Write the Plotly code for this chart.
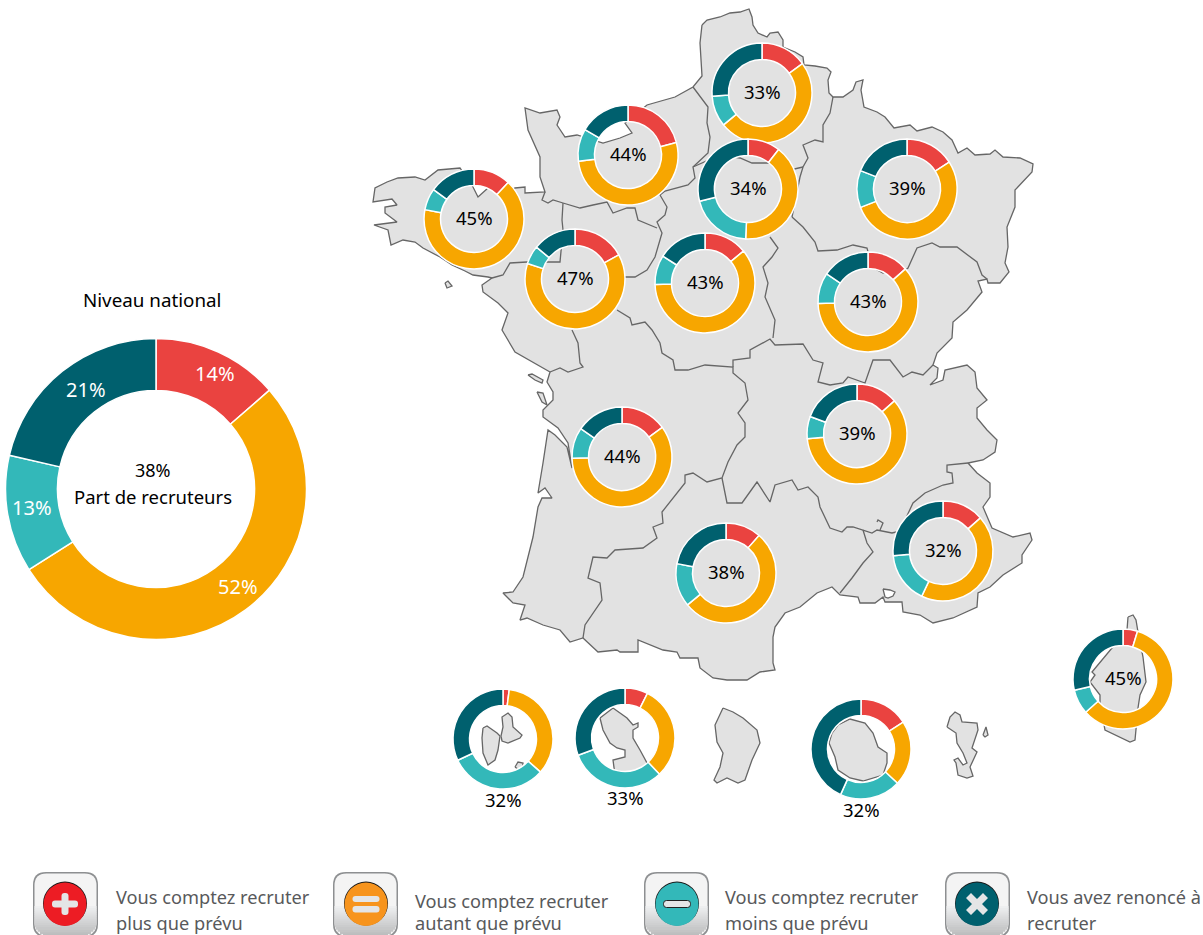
import plotly.graph_objects as go

W, H = 1203, 935
RED, ORANGE, TEAL, DARK = "#EA4340", "#F7A600", "#33B8B9", "#00606E"
LAND, EDGE = "#E2E2E2", "#666666"
FONT = "Noto Sans"

# ---------- data (shares in %, clockwise from the top) ----------
categories = ["Vous comptez recruter plus que prévu", "Vous comptez recruter autant que prévu",
              "Vous comptez recruter moins que prévu", "Vous avez renoncé à recruter"]
national_values = [13.6, 52.4, 12.6, 21.4]
national_recruiters = "38%"

regions = ["Hauts-de-France", "Normandie", "Bretagne", "Pays de la Loire", "Ile-de-France",
           "Centre-Val de Loire", "Grand Est", "Bourgogne-Franche-Comté", "Nouvelle-Aquitaine",
           "Occitanie", "Auvergne-Rhône-Alpes", "PACA", "Corse", "Guadeloupe", "Martinique", "La Réunion"]
recruiters = ["33%", "44%", "45%", "47%", "34%", "43%", "39%", "43%", "44%", "38%", "39%", "32%",
              "45%", "32%", "33%", "32%"]
plus_share =   [15, 21, 12, 17, 10.5, 14, 16, 13.5, 15, 11.5, 13.5, 13.5, 4.7, 2, 7.4, 16]
same_share =   [49, 52, 66, 63, 40.3, 60.7, 53, 61, 60, 52.5, 60, 43.5, 58.7, 34.5, 30.5, 21]
less_share =   [10, 10.5, 7, 6, 20.3, 9.5, 12, 10, 10, 14, 7.2, 16.5, 8, 31.5, 31.5, 19.7]
gave_up_share = [26, 16.5, 15, 14, 29, 16, 19, 15.5, 15.5, 22, 19.3, 26.5, 28.6, 32, 30.6, 43.3]

# ---------- layout helpers (pixel placement of the donuts) ----------
centers = [(762, 93), (628, 155), (474, 219), (575, 279), (748, 189), (705, 283), (907, 189), (868, 302),
           (622, 457), (726, 573), (857, 434), (943, 551), (1123, 679), (503, 739), (625, 738), (861, 749)]
label_below = {"Guadeloupe": (503, 801), "Martinique": (625, 799), "La Réunion": (861, 811)}

# ---------- map outlines (background decoration, image pixels) ----------
mainland = [(702,25),(707,20),(720,17),(730,13),(740,12),(749,9),(752,17),(753,25),(758,33),(767,37),(770,33),(778,32),
 (783,40),(783,47),(795,52),(803,57),(804,65),(815,66),(827,68),(831,72),(828,80),(829,93),(833,97),(843,97),(853,90),
 (856,82),(863,80),(861,90),(864,107),(877,112),(885,117),(894,128),(910,125),(917,131),(932,127),(943,132),(952,140),
 (958,153),(967,148),(975,155),(990,154),(995,150),(1003,157),(1020,158),(1033,164),(1032,172),(1015,190),(1015,207),
 (1007,227),(1008,247),(1005,263),(1009,272),(1000,283),(988,283),(987,279),(978,281),(982,292),(967,310),(953,322),
 (952,338),(937,353),(933,365),(938,368),(937,378),(930,385),(943,380),(945,370),(967,365),(975,372),(977,388),(987,400),
 (977,408),(977,418),(987,430),(997,440),(995,452),(983,460),(968,463),(977,473),(990,483),(990,497),(983,507),(992,528),
 (1013,537),(1030,533),(1032,540),(1022,555),(1022,563),(1003,575),(990,587),(978,593),(977,607),(953,618),(933,623),
 (920,615),(903,612),(902,602),(885,602),(883,597),(875,603),(860,603),(858,597),(840,595),(832,587),(817,593),(800,607),
 (785,613),(775,627),(773,637),(773,663),(775,670),(760,672),(747,680),(727,680),(713,678),(700,668),(698,658),(680,658),
 (677,652),(663,650),(638,640),(638,652),(620,652),(617,650),(598,652),(583,638),(570,642),(560,630),(543,625),(527,618),
 (520,620),(525,605),(513,603),(503,593),(513,592),(523,577),(533,537),(538,507),(542,498),(552,498),(545,488),(538,493),
 (543,463),(548,430),(555,435),(567,447),(572,468),(568,443),(558,428),(543,417),(543,410),(553,400),(553,392),(547,382),
 (550,372),(532,362),(515,352),(502,330),(508,313),(498,303),(483,292),(482,285),(492,278),(488,277),(473,275),(465,271),
 (452,265),(440,257),(423,248),(415,242),(403,240),(391,245),(388,230),(374,225),(397,222),(385,213),(385,207),(397,205),
 (392,199),(373,202),(375,188),(387,182),(398,178),(415,177),(425,180),(438,170),(460,168),(473,187),(478,197),(488,188),
 (507,193),(515,188),(525,187),(525,193),(545,192),(540,177),(540,157),(528,130),(525,108),(540,113),(557,110),(560,117),
 (557,125),(565,137),(577,135),(603,143),(620,138),(632,133),(625,123),(647,105),(675,97),(693,87),(702,76),(700,43)]

borders = [
 [(693,87),(708,107),(707,123),(710,137),(708,153),(693,167),(695,178),(688,185),(665,191),(660,195),(667,207),(665,215),(657,222),
  (662,233),(655,257),(647,270),(635,277),(625,277)],
 [(545,192),(542,200),(548,203),(553,200),(563,203),(580,208),(593,205),(607,202),(613,213),(627,208),(635,208),(638,220),(657,228)],
 [(563,203),(562,220),(563,230),(560,262),(527,262),(510,263),(503,275),(492,278)],
 [(617,310),(630,318),(632,325),(645,322),(652,330),(660,343),(662,353),(673,360),(675,370),(688,370),(705,365),(733,367),
  (733,373),(745,383),(748,400),(738,413),(745,423),(745,437),(737,445),(728,462),(722,478),(707,482),(693,473),(685,475),
  (685,483),(670,502),(662,512),(663,523),(653,527),(657,538),(643,548),(615,550),(607,558),(593,557),(588,578),(600,583),
  (602,600),(585,625),(583,638)],
 [(572,330),(578,343),(580,363),(583,367),(568,372),(560,368),(550,372)],
 [(722,478),(727,503),(742,503),(757,482),(770,502),(775,485),(792,480),(798,490),(808,487),(818,497),(820,507),(830,528),
  (842,532),(847,527),(853,527),(863,530),(872,533),(877,530),(892,533),(905,530)],
 [(905,520),(913,503),(925,493),(943,485),(953,483),(952,473),(947,472),(947,465),(968,463)],
 [(863,530),(867,543),(873,552),(863,563),(852,578),(840,593)],
 [(733,367),(733,360),(750,358),(750,350),(770,339),(775,345),(803,344),(813,360),(823,363),(818,382),(830,385),(843,383),
  (848,377),(865,383),(873,360),(883,360),(890,360),(903,377),(912,372),(923,375),(933,365)],
 [(770,237),(778,248),(772,257),(763,267),(768,283),(765,297),(775,320),(773,338)],
 [(792,217),(803,227),(815,242),(818,251),(837,250),(853,245),(867,248),(872,267),(883,273),(905,270),(908,268),(917,248),
  (932,243),(940,247),(957,247),(977,262),(982,275),(987,279)],
 [(833,97),(830,113),(823,125),(823,142),(815,140),(803,145),(808,158),(803,167),(800,177),(792,217)],
 [(693,167),(720,155),(740,158),(752,163),(770,163),(790,170),(803,167)],
 [(877,522),(878,520),(883,523),(880,530)],
]

islands_gray = [
 [(445,283),(448,281),(452,286),(447,288)],                        # Belle-Ile
 [(528,375),(532,374),(543,380),(542,383),(535,380)],              # Ré
 [(537,392),(543,393),(547,405),(542,402)],                        # Oléron
 [(1128,617),(1133,615),(1136,620),(1138,632),(1143,657),(1146,682),(1140,695),(1138,708),(1135,740),(1130,742),(1105,730),
  (1100,703),(1100,695),(1090,682),(1095,675),(1092,672),(1127,630)],   # Corse
 [(483,728),(487,726),(497,733),(500,736),(498,750),(495,760),(488,765),(483,753),(482,738)],   # Basse-Terre
 [(501,736),(503,727),(502,717),(508,713),(512,717),(513,727),(522,735),(520,738),(508,743),(502,741)],  # Grande-Terre
 [(515,767),(518,762),(523,763),(522,772)],                        # Marie-Galante
 [(600,718),(613,708),(627,718),(633,725),(638,723),(638,727),(633,730),(633,738),(640,750),(647,763),(648,775),(615,775),
  (613,760),(625,757),(625,750),(617,748),(610,743),(603,730)],    # Martinique
 [(723,708),(733,712),(743,718),(757,730),(760,743),(752,760),(745,780),(738,783),(727,778),(717,783),(714,780),(720,767),
  (723,753),(717,742),(715,725)],                                  # Guyane
 [(838,725),(850,719),(865,723),(873,733),(878,747),(887,753),(887,763),(883,775),(863,781),(850,778),(838,770),(835,757),
  (829,743),(832,733)],                                            # Réunion
 [(947,727),(950,717),(955,712),(960,715),(962,722),(977,723),(978,730),(972,748),(977,752),(970,767),(973,776),(967,778),
  (958,775),(956,763),(954,760),(958,758),(963,765),(967,763),(963,753),(957,743),(956,733)],   # Mayotte
 [(983,735),(986,727),(988,735),(985,737)],                        # Petite-Terre
]
lakes_white = [[(883,589),(890,590),(895,592),(893,596),(888,598),(885,597)]]   # Etang de Berre

fig = go.Figure()


def poly(pts, fill, line=EDGE, width=1.3):
    xs = [p[0] for p in pts] + [pts[0][0]]
    ys = [p[1] for p in pts] + [pts[0][1]]
    fig.add_trace(go.Scatter(x=xs, y=ys, mode="lines", fill="toself", fillcolor=fill,
                             line=dict(color=line, width=width), hoverinfo="skip", showlegend=False))


poly(mainland, LAND)
for b in borders:
    fig.add_trace(go.Scatter(x=[p[0] for p in b], y=[p[1] for p in b], mode="lines",
                             line=dict(color=EDGE, width=1.3), hoverinfo="skip", showlegend=False))
for isl in islands_gray:
    poly(isl, LAND)
for lk in lakes_white:
    poly(lk, "white")


def donut(values, cx, cy, r, hole, name):
    fig.add_trace(go.Pie(values=values, labels=categories, name=name, sort=False, direction="clockwise", rotation=0,
                         hole=hole, textinfo="none", showlegend=False,
                         marker=dict(colors=[RED, ORANGE, TEAL, DARK], line=dict(color="white", width=1.5)),
                         domain=dict(x=[(cx - r) / W, (cx + r) / W], y=[1 - (cy + r) / H, 1 - (cy - r) / H])))


donut(national_values, 156, 489, 150.5, 0.655, "Niveau national")
annotations = []


def label(x, y, text, size=18, color="black", anchor="center"):
    annotations.append(dict(x=x, y=y, xref="x", yref="y", text=text, showarrow=False, xanchor=anchor, yanchor="middle",
                            borderpad=0, font=dict(family=FONT, size=size, color=color)))


for i, name in enumerate(regions):
    vals = [plus_share[i], same_share[i], less_share[i], gave_up_share[i]]
    cx, cy = centers[i]
    donut(vals, cx, cy, 50, 0.67, name)
    lx, ly = label_below.get(name, (cx, cy))
    label(lx, ly - 1.5, recruiters[i], size=18.5)

label(152, 300, "Niveau national", size=18.8)
label(153, 470, national_recruiters, size=18)
label(153, 496, "Part de recruteurs", size=18.5)
for (x, y), v in zip([(215, 373), (238, 586), (32, 507), (86, 389)], national_values):
    label(x, y, f"{round(v)}%", size=20, color="white")

# ---------- legend: buttons built from shapes ----------
shapes = []


def rrect(x0, y0, x1, y1, r):
    return (f"M{x0+r},{y0} L{x1-r},{y0} Q{x1},{y0} {x1},{y0+r} L{x1},{y1-r} Q{x1},{y1} {x1-r},{y1} "
            f"L{x0+r},{y1} Q{x0},{y1} {x0},{y1-r} L{x0},{y0+r} Q{x0},{y0} {x0+r},{y0} Z")


def add_path(path, fill, line=None):
    shapes.append(dict(type="path", xref="x", yref="y", path=path, fillcolor=fill, line=dict(width=0 if line is None else 1, color=line or fill), layer="above"))


def button(x0, cx, color, kind):
    y0, y1, x1 = 872, 937, x0 + 65
    cy = 904
    add_path(rrect(x0, y0, x1, y1, 13), "#8D8F91")
    add_path(rrect(x0 + 1.5, y0 + 1.5, x1 - 1.5, y1 - 1.5, 12), "#F4F4F4")
    # vertical sheen: bands getting darker towards the bottom of the button
    top = 906
    steps = 14
    for k in range(steps):
        t = k / (steps - 1)
        g = int(238 - 50 * t)
        b0 = top + k * (y1 - 1.5 - top) / steps
        b1 = top + (k + 1) * (y1 - 1.5 - top) / steps + 0.5
        inset = 1.5 if b1 < y1 - 12 else 1.5 + 10 * ((b1 - (y1 - 12)) / 12) ** 2
        add_path(f"M{x0+inset},{b0} L{x1-inset},{b0} L{x1-inset},{b1} L{x0+inset},{b1} Z", f"rgb({g},{g+1},{g+2})")
    shapes.append(dict(type="circle", xref="x", yref="y", x0=cx - 22, x1=cx + 22, y0=cy - 22.5, y1=cy + 21.5,
                       fillcolor="#1a1a1a", line=dict(width=0), layer="above"))
    shapes.append(dict(type="circle", xref="x", yref="y", x0=cx - 21.5, x1=cx + 21.5, y0=cy - 21.5, y1=cy + 22,
                       fillcolor=color, line=dict(width=0), layer="above"))
    light = "#E4E5E6"
    if kind == "plus":
        add_path(rrect(cx - 13, cy - 3.5, cx + 13, cy + 3.5, 3), light)
        add_path(rrect(cx - 3.5, cy - 11, cx + 3.5, cy + 11, 3), light)
    elif kind == "equal":
        add_path(rrect(cx - 13.5, cy - 8, cx + 13.5, cy - 2, 3), light)
        add_path(rrect(cx - 13.5, cy + 2, cx + 13.5, cy + 8.5, 3), light)
    elif kind == "minus":
        add_path(rrect(cx - 13.5, cy - 3.5, cx + 13.5, cy + 3.5, 3), light, "#222222")
    else:
        a, b = 11, 5
        add_path(f"M{cx-a},{cy-a+b} L{cx-a+b},{cy-a} L{cx},{cy-b} L{cx+a-b},{cy-a} L{cx+a},{cy-a+b} L{cx+b},{cy} "
                 f"L{cx+a},{cy+a-b} L{cx+a-b},{cy+a} L{cx},{cy+b} L{cx-a+b},{cy+a} L{cx-a},{cy+a-b} L{cx-b},{cy} Z", light)


button(33, 65, "#ED1C24", "plus")
button(333, 366, "#F7941D", "equal")
button(644, 677, TEAL, "minus")
button(945, 977, "#00606E", "cross")

GREY_TXT = "#58595B"
legend_lines = [(115, 897, 923, "Vous comptez recruter", "plus que prévu"),
                (414, 901, 923, "Vous comptez recruter", "autant que prévu"),
                (724, 897, 923, "Vous comptez recruter", "moins que prévu"),
                (1026, 897, 923, "Vous avez renoncé à", "recruter")]
for x, y1, y2, t1, t2 in legend_lines:
    label(x, y1, t1, size=18.2, color=GREY_TXT, anchor="left")
    label(x, y2, t2, size=18.2, color=GREY_TXT, anchor="left")

fig.update_layout(width=W, height=H, margin=dict(l=0, r=0, t=0, b=0), paper_bgcolor="white", plot_bgcolor="white",
                  xaxis=dict(range=[0, W], visible=False, fixedrange=True),
                  yaxis=dict(range=[H, 0], visible=False, fixedrange=True),
                  annotations=annotations, shapes=shapes, showlegend=False, font=dict(family=FONT))
fig.write_html("out.html", config={"displayModeBar": False},
               post_script="document.body.style.margin='0';document.body.style.overflow='hidden';")
